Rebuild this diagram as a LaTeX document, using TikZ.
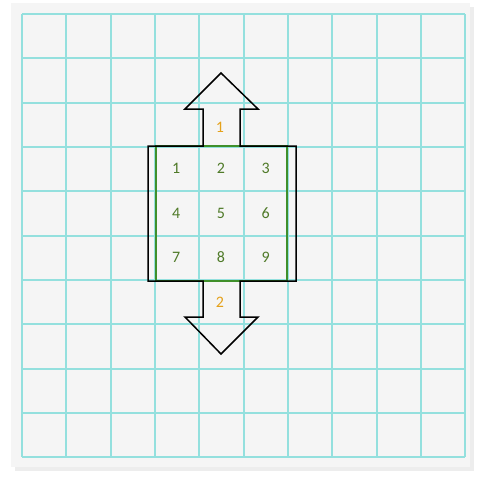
\documentclass[tikz,border=0pt]{standalone}
\usepackage{fontspec}
\setmainfont{Carlito}
\usepackage{xcolor}
\usepackage{tikz}
\usetikzlibrary{positioning}

\definecolor{sheet}{HTML}{F5F5F5}
\definecolor{gridcyan}{HTML}{94E0DE}
\definecolor{numgreen}{HTML}{4F7A28}
\definecolor{edgegreen}{HTML}{3F8F2A}
\definecolor{tagorange}{HTML}{E5A11A}

\begin{document}
\begin{tikzpicture}[
    x=1pt, y=-1pt,
    node distance=44.3pt and 44.8pt, on grid,
    gridline/.style={draw=gridcyan, line width=2.2pt},
    num/.style={font=\fontsize{16}{18}\selectfont, text=numgreen, inner sep=0pt},
    tag/.style={font=\fontsize{16}{18}\selectfont, text=tagorange, inner sep=0pt},
    outline/.style={draw=black, line width=1.5pt, line join=miter},
]
\useasboundingbox (0,0) rectangle (480,477);
\fill[white] (0,0) rectangle (480,477);
% sheet with a soft shadow
\fill[black!7] (15,7) rectangle (474,471);
\fill[sheet] (11,3) rectangle (470,467);

% grid
\foreach \p in {22,66,111,155,199,244,288,332,377,421,465} {
  \draw[gridline] (\p,14) -- (\p,457);
}
\foreach \p in {14,58,103,147,191,236,280,324,369,413,457} {
  \draw[gridline] (22,\p) -- (465,\p);
}

% box with the two arrows
\draw[edgegreen, line width=1.2pt] (156,146) rectangle (287,281);
\draw[outline] (203,146) -- (148,146) -- (148,281) -- (203,281)
  -- (203,317) -- (185,317) -- (221,354) -- (258,317) -- (240,317)
  -- (240,281) -- (296,281) -- (296,146) -- (240,146)
  -- (240,109) -- (258,109) -- (221,73) -- (185,109) -- (203,109) -- cycle;

% cell numbers
\node[num] (n5) at (221,213) {5};
\node[num, left=of n5] (n4) {4};
\node[num, right=of n5] (n6) {6};
\node[num, above=of n5] (n2) {2};
\node[num, left=of n2] (n1) {1};
\node[num, right=of n2] (n3) {3};
\node[num, below=of n5] (n8) {8};
\node[num, left=of n8] (n7) {7};
\node[num, right=of n8] (n9) {9};

% arrow labels
\node[tag] (up) at (220,127) {1};
\node[tag] (down) at (220,302) {2};
\end{tikzpicture}
\end{document}
